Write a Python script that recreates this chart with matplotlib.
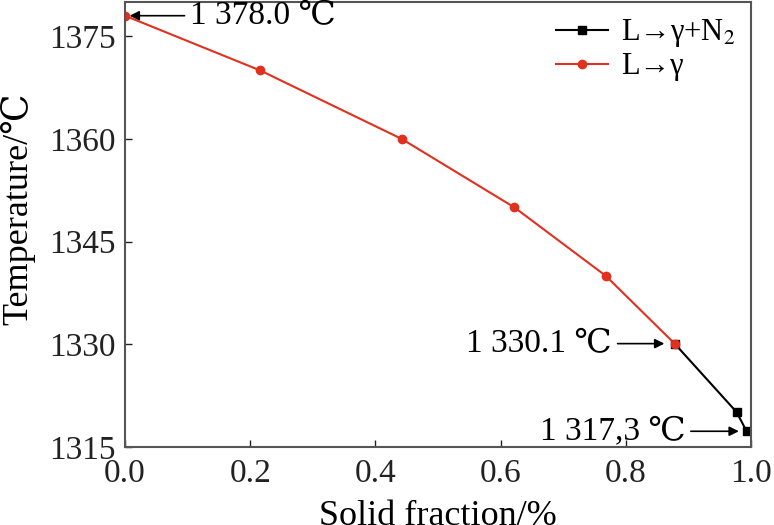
import matplotlib
matplotlib.use("Agg")
import matplotlib.pyplot as plt

plt.rcParams['font.family'] = ['Liberation Serif', 'DejaVu Serif', 'DejaVu Sans']
plt.rcParams['mathtext.fontset'] = 'stix'

# L -> gamma (red) and L -> gamma + N2 (black)
frac_gamma = [0.0, 0.216, 0.442, 0.622, 0.768, 0.878]
temp_gamma = [1378.0, 1370.0, 1360.0, 1350.0, 1340.0, 1330.1]
frac_n2 = [0.878, 0.977, 0.993]
temp_n2 = [1330.1, 1320.1, 1317.3]

xticks = [0.0, 0.2, 0.4, 0.6, 0.8, 1.0]
yticks = [1315, 1330, 1345, 1360, 1375]

red = '#e2301f'
fs_tick = 24
fs_label = 26
fs_note = 24
fs_leg = 22

fig = plt.figure(figsize=(7.74, 5.25), dpi=100)
ax = fig.add_axes([125 / 774, 1 - 447 / 525, (751 - 125) / 774, (447 - 2) / 525])

ax.plot(frac_n2, temp_n2, 's-', color='black', ms=6, lw=1.5, label=r'L→γ+N$_2$')
ax.plot(frac_gamma, temp_gamma, 'o-', color=red, ms=6, lw=1.5, label='L→γ')

ax.set_xlim(0, 1.0)
ax.set_ylim(1315, 1380)
ax.set_xticks(xticks)
ax.set_xticklabels(["%.1f" % t for t in xticks])
ax.set_yticks(yticks)
ax.tick_params(direction='in', length=5, width=1, labelsize=fs_tick, colors='#222222')
ax.tick_params(axis='x', pad=8)
ax.tick_params(axis='y', pad=7)
for s in ax.spines.values():
    s.set_linewidth(1.5)
    s.set_color('#555555')

ax.set_xlabel('Solid fraction/%', fontsize=fs_label)
ax.set_ylabel('Temperature/℃', fontsize=fs_label)
ax.xaxis.set_label_coords(0.5, -0.12)
ax.yaxis.set_label_coords(-0.143, 0.535)

ax.legend(loc='upper right', frameon=False, fontsize=fs_leg, handlelength=1.7,
          handletextpad=0.45, borderaxespad=0.1, labelspacing=0.1)

arrow = dict(arrowstyle='-|>', color='black', lw=1.2, mutation_scale=14)
ax.annotate('1 378.0 ℃', xy=(frac_gamma[0] + 0.003, temp_gamma[0]), xytext=(0.104, temp_gamma[0]),
            fontsize=fs_note, va='center', ha='left', arrowprops=arrow)
ax.annotate('1 330.1 ℃', xy=(frac_gamma[-1] - 0.012, temp_gamma[-1]), xytext=(0.778, temp_gamma[-1]),
            fontsize=fs_note, va='center', ha='right', arrowprops=arrow)
ax.annotate('1 317,3 ℃', xy=(frac_n2[-1] - 0.008, temp_n2[-1]), xytext=(0.895, temp_n2[-1]),
            fontsize=fs_note, va='center', ha='right', arrowprops=arrow)

fig.savefig('out.png', dpi=100)
